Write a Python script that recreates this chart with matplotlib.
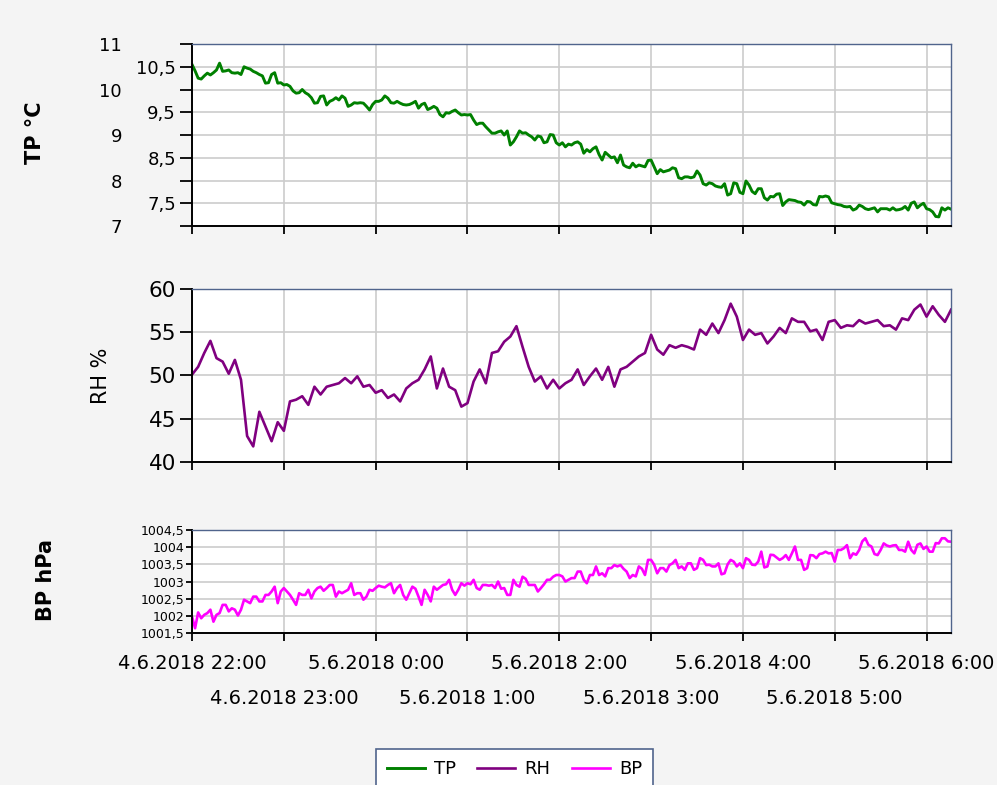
import numpy as np
import pandas as pd
import matplotlib
matplotlib.use('Agg')
import matplotlib.pyplot as plt
import matplotlib.dates as mdates
from matplotlib.ticker import MultipleLocator, FuncFormatter

# mereni od 4.6.2018 22:00, TP a BP po 2 minutach, RH po 4 minutach
start = '2018-06-04 22:00'

tp = [10.55, 10.41, 10.25, 10.23, 10.30, 10.36, 10.32, 10.37, 10.43, 10.58,
      10.40, 10.41, 10.43, 10.37, 10.36, 10.37, 10.33, 10.50, 10.47, 10.45,
      10.40, 10.37, 10.33, 10.30, 10.14, 10.15, 10.33, 10.37, 10.14, 10.15,
      10.10, 10.11, 10.07, 9.97, 9.92, 9.93, 10.00, 9.93, 9.89, 9.82,
      9.70, 9.71, 9.85, 9.86, 9.66, 9.74, 9.77, 9.82, 9.77, 9.86,
      9.81, 9.63, 9.66, 9.71, 9.70, 9.71, 9.70, 9.63, 9.55, 9.67,
      9.74, 9.74, 9.77, 9.86, 9.81, 9.71, 9.70, 9.74, 9.70, 9.67,
      9.66, 9.67, 9.70, 9.74, 9.59, 9.67, 9.70, 9.56, 9.59, 9.63,
      9.59, 9.45, 9.40, 9.49, 9.48, 9.52, 9.55, 9.49, 9.44, 9.45,
      9.44, 9.45, 9.33, 9.23, 9.26, 9.26, 9.18, 9.11, 9.04, 9.04,
      9.07, 9.09, 9.00, 9.09, 8.78, 8.85, 8.96, 9.09, 9.04, 9.05,
      9.00, 8.96, 8.89, 8.98, 8.96, 8.83, 8.85, 9.01, 9.00, 8.83,
      8.78, 8.83, 8.74, 8.80, 8.78, 8.83, 8.85, 8.80, 8.60, 8.68,
      8.63, 8.70, 8.74, 8.57, 8.45, 8.62, 8.56, 8.50, 8.52, 8.39,
      8.56, 8.34, 8.30, 8.28, 8.38, 8.30, 8.34, 8.32, 8.30, 8.44,
      8.45, 8.30, 8.15, 8.24, 8.19, 8.21, 8.23, 8.28, 8.26, 8.06,
      8.04, 8.08, 8.08, 8.06, 8.08, 8.21, 8.12, 7.93, 7.90, 7.95,
      7.93, 7.88, 7.86, 7.85, 7.93, 7.68, 7.71, 7.95, 7.93, 7.74,
      7.71, 7.99, 7.90, 7.76, 7.71, 7.82, 7.82, 7.62, 7.57, 7.65,
      7.64, 7.70, 7.71, 7.45, 7.53, 7.58, 7.57, 7.56, 7.53, 7.52,
      7.46, 7.54, 7.53, 7.47, 7.46, 7.65, 7.64, 7.66, 7.64, 7.51,
      7.49, 7.47, 7.46, 7.43, 7.42, 7.43, 7.35, 7.38, 7.46, 7.43,
      7.38, 7.36, 7.38, 7.40, 7.31, 7.38, 7.38, 7.38, 7.35, 7.40,
      7.35, 7.36, 7.38, 7.43, 7.35, 7.50, 7.53, 7.40, 7.46, 7.50,
      7.38, 7.36, 7.31, 7.21, 7.20, 7.40, 7.35, 7.40, 7.37]

rh = [50.1, 51.0, 52.6, 54.0, 52.0, 51.6, 50.2, 51.8, 49.5, 43.0,
      41.8, 45.8, 44.1, 42.4, 44.6, 43.6, 47.0, 47.2, 47.6, 46.6,
      48.7, 47.8, 48.7, 48.9, 49.1, 49.7, 49.1, 49.9, 48.7, 48.9,
      48.0, 48.3, 47.4, 47.8, 47.0, 48.5, 49.1, 49.5, 50.7, 52.2,
      48.5, 50.8, 48.7, 48.3, 46.4, 46.8, 49.3, 50.7, 49.1, 52.6,
      52.8, 53.9, 54.5, 55.7, 53.3, 51.0, 49.3, 49.9, 48.5, 49.5,
      48.5, 49.1, 49.5, 50.7, 48.9, 49.9, 50.8, 49.5, 51.0, 48.7,
      50.7, 51.0, 51.6, 52.2, 52.6, 54.7, 53.0, 52.4, 53.5, 53.2,
      53.5, 53.3, 53.0, 55.3, 54.7, 56.0, 54.9, 56.4, 58.3, 56.8,
      54.1, 55.3, 54.7, 54.9, 53.7, 54.5, 55.5, 54.9, 56.6, 56.2,
      56.2, 55.1, 55.3, 54.1, 56.2, 56.4, 55.5, 55.8, 55.7, 56.4,
      56.0, 56.2, 56.4, 55.7, 55.8, 55.3, 56.6, 56.4, 57.6, 58.2,
      56.8, 58.0, 57.0, 56.2, 57.6]

bp = [1001.98, 1001.64, 1002.10, 1001.93, 1002.03, 1002.08, 1002.18, 1001.83, 1002.03, 1002.08,
      1002.32, 1002.32, 1002.13, 1002.22, 1002.18, 1002.01, 1002.18, 1002.47, 1002.42, 1002.37,
      1002.56, 1002.56, 1002.42, 1002.42, 1002.61, 1002.61, 1002.71, 1002.85, 1002.37, 1002.71,
      1002.81, 1002.71, 1002.61, 1002.47, 1002.32, 1002.66, 1002.61, 1002.61, 1002.76, 1002.51,
      1002.71, 1002.81, 1002.85, 1002.73, 1002.81, 1002.90, 1002.90, 1002.56, 1002.71, 1002.66,
      1002.71, 1002.76, 1002.95, 1002.61, 1002.66, 1002.66, 1002.47, 1002.56, 1002.76, 1002.73,
      1002.81, 1002.88, 1002.85, 1002.83, 1002.90, 1002.95, 1002.66, 1002.81, 1002.90, 1002.61,
      1002.47, 1002.66, 1002.85, 1002.79, 1002.56, 1002.32, 1002.76, 1002.61, 1002.42, 1002.85,
      1002.76, 1002.83, 1002.90, 1002.92, 1003.05, 1002.76, 1002.61, 1002.76, 1002.95, 1002.88,
      1002.95, 1002.92, 1003.05, 1002.81, 1002.76, 1002.90, 1002.90, 1002.88, 1002.90, 1002.81,
      1003.00, 1002.79, 1002.81, 1002.61, 1002.61, 1003.05, 1002.90, 1002.85, 1003.14, 1003.08,
      1002.90, 1002.90, 1002.90, 1002.71, 1002.81, 1002.92, 1003.05, 1003.05, 1003.14, 1003.19,
      1003.19, 1003.15, 1003.00, 1003.05, 1003.10, 1003.10, 1003.29, 1003.29, 1003.05, 1002.95,
      1003.19, 1003.19, 1003.44, 1003.19, 1003.24, 1003.15, 1003.39, 1003.39, 1003.48, 1003.44,
      1003.48, 1003.37, 1003.29, 1003.10, 1003.19, 1003.15, 1003.44, 1003.37, 1003.19, 1003.63,
      1003.63, 1003.49, 1003.24, 1003.39, 1003.39, 1003.29, 1003.48, 1003.53, 1003.63, 1003.39,
      1003.44, 1003.34, 1003.53, 1003.53, 1003.34, 1003.39, 1003.68, 1003.63, 1003.48, 1003.49,
      1003.44, 1003.44, 1003.53, 1003.21, 1003.24, 1003.50, 1003.63, 1003.58, 1003.44, 1003.53,
      1003.39, 1003.68, 1003.63, 1003.49, 1003.48, 1003.58, 1003.87, 1003.41, 1003.44, 1003.78,
      1003.77, 1003.70, 1003.63, 1003.68, 1003.77, 1003.63, 1003.82, 1004.02, 1003.63, 1003.63,
      1003.34, 1003.39, 1003.77, 1003.76, 1003.68, 1003.80, 1003.82, 1003.87, 1003.82, 1003.83,
      1003.58, 1003.92, 1003.92, 1003.97, 1004.06, 1003.68, 1003.82, 1003.78, 1003.92, 1004.17,
      1004.26, 1004.07, 1004.02, 1003.80, 1003.77, 1003.92, 1004.11, 1004.05, 1004.02, 1004.05,
      1004.06, 1003.92, 1003.92, 1003.87, 1004.16, 1003.92, 1003.82, 1004.07, 1004.11, 1003.95,
      1004.02, 1003.87, 1003.87, 1004.12, 1004.11, 1004.26, 1004.26, 1004.17, 1004.16]

cas2 = pd.date_range(start, periods=len(tp), freq='2min')
cas4 = pd.date_range(start, periods=len(rh), freq='4min')
konec = pd.Timestamp(start) + pd.Timedelta(minutes=496)

plt.rcParams['font.family'] = 'DejaVu Sans'

fig = plt.figure(figsize=(9.97, 7.85), dpi=100)
fig.patch.set_facecolor('#f4f4f4')

ax1 = fig.add_axes([0.1926, 0.7121, 0.7613, 0.2318])
ax2 = fig.add_axes([0.1926, 0.4115, 0.7613, 0.2204], sharex=ax1)
ax3 = fig.add_axes([0.1926, 0.1936, 0.7613, 0.1312], sharex=ax1)

l1, = ax1.plot(cas2, tp, color='#008000', lw=2.1, label='TP')
l2, = ax2.plot(cas4, rh, color='#800080', lw=1.9, label='RH')
l3, = ax3.plot(cas2, bp, color='#ff00ff', lw=1.9, label='BP')

def carka(v, pos):
    return f'{v:g}'.replace('.', ',')

def datum(v, pos):
    d = mdates.num2date(v)
    return f'{d.day}.{d.month}.{d.year} {d.hour}:{d.minute:02d}'

for ax in (ax1, ax2, ax3):
    ax.set_facecolor('white')
    ax.grid(True, which='both', color='#cccccc', lw=1.2)
    ax.set_axisbelow(True)
    for s in ('top', 'right'):
        ax.spines[s].set_color('#50648c')
        ax.spines[s].set_linewidth(1.0)
    for s in ('left', 'bottom'):
        ax.spines[s].set_color('black')
        ax.spines[s].set_linewidth(1.4)
    ax.tick_params(axis='x', which='both', direction='out', length=6, width=1.3)

ax1.set_xlim(pd.Timestamp(start), konec)
ax1.xaxis.set_major_locator(mdates.HourLocator(byhour=range(0, 24, 2)))
ax1.xaxis.set_minor_locator(mdates.HourLocator(byhour=range(1, 24, 2)))
ax1.xaxis.set_major_formatter(FuncFormatter(datum))
ax1.xaxis.set_minor_formatter(FuncFormatter(datum))
for ax in (ax1, ax2):
    ax.tick_params(axis='x', which='both', labelbottom=False)
ax3.tick_params(axis='x', which='major', labelsize=14, pad=9)
ax3.tick_params(axis='x', which='minor', labelsize=14, pad=34)

# TP
ax1.set_ylim(7, 11)
ax1.yaxis.set_major_locator(MultipleLocator(1))
ax1.yaxis.set_minor_locator(MultipleLocator(0.5))
ax1.yaxis.set_major_formatter(FuncFormatter(carka))
ax1.yaxis.set_minor_formatter(FuncFormatter(carka))
ax1.tick_params(axis='y', which='major', length=8.5, width=1.3, labelsize=13, pad=42)
ax1.tick_params(axis='y', which='minor', length=8.5, width=1.3, labelsize=13, pad=3)

# RH
ax2.set_ylim(40, 60)
ax2.yaxis.set_major_locator(MultipleLocator(5))
ax2.tick_params(axis='y', length=8.5, width=1.3, labelsize=15.5, pad=3)

# BP
ax3.set_ylim(1001.5, 1004.5)
ax3.yaxis.set_major_locator(MultipleLocator(0.5))
ax3.yaxis.set_major_formatter(FuncFormatter(carka))
ax3.tick_params(axis='y', length=4.5, width=1.3, labelsize=9, pad=1)

fig.text(35 / 997, 1 - 133 / 785, 'TP °C', rotation=90, ha='center', va='center',
         fontsize=15, fontweight='bold')
fig.text(101 / 997, 1 - 376 / 785, 'RH %', rotation=90, ha='center', va='center',
         fontsize=15)
fig.text(46 / 997, 1 - 580 / 785, 'BP hPa', rotation=90, ha='center', va='center',
         fontsize=15, fontweight='bold')

leg = fig.legend(handles=[l1, l2, l3], loc='upper center', ncol=3,
                 bbox_to_anchor=(514.5 / 997, 1 - 749 / 785), fontsize=13,
                 frameon=True, fancybox=False, handlelength=2.1, handletextpad=0.5,
                 columnspacing=1.2, borderpad=0.6, borderaxespad=0)
leg.get_frame().set_edgecolor('#50648c')
leg.get_frame().set_linewidth(1.2)
leg.get_frame().set_facecolor('white')
leg.get_frame().set_alpha(1)

fig.savefig('out.png', dpi=100, facecolor=fig.get_facecolor())
